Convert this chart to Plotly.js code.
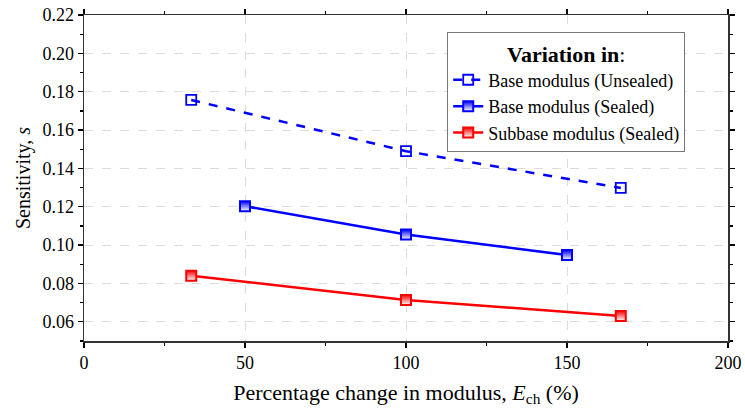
<!DOCTYPE html>
<html>
<head>
<meta charset="utf-8">
<script src="https://cdn.plot.ly/plotly-3.0.1.min.js"></script>
<style>html,body{margin:0;padding:0;background:#fff;}#chart{width:745px;height:414px;}</style>
</head>
<body>
<div id="chart"></div>
<script>
const seriesNames = ["Base modulus (Unsealed)", "Base modulus (Sealed)", "Subbase modulus (Sealed)"];
const xUnsealedBase = [33.3, 100, 166.7];
const yUnsealedBase = [0.1757, 0.1490, 0.1298];
const xSealedBase = [50, 100, 150];
const ySealedBase = [0.1203, 0.1055, 0.0948];
const xSealedSubbase = [33.3, 100, 166.7];
const ySealedSubbase = [0.0840, 0.0714, 0.0630];
const xTickVals = [0, 50, 100, 150, 200];
const xTickText = ["0", "50", "100", "150", "200"];
const yTickVals = [0.06, 0.08, 0.10, 0.12, 0.14, 0.16, 0.18, 0.20, 0.22];
const yTickText = ["0.06", "0.08", "0.10", "0.12", "0.14", "0.16", "0.18", "0.20", "0.22"];

const FONT = "Liberation Serif";
const blue = "#0000ff", red = "#ff0000";

const traces = [
  {x: xUnsealedBase, y: yUnsealedBase, name: seriesNames[0], mode: "lines+markers",
   line: {color: blue, width: 2.5, dash: "dash"},
   marker: {symbol: "square-open", size: 10, color: blue, line: {width: 1.8, color: blue}}},
  {x: xSealedBase, y: ySealedBase, name: seriesNames[1], mode: "lines+markers",
   line: {color: blue, width: 2.5},
   marker: {symbol: "square", size: 10, color: blue, gradient: {type: "vertical", color: "#ffffff"}, line: {width: 2, color: blue}}},
  {x: xSealedSubbase, y: ySealedSubbase, name: seriesNames[2], mode: "lines+markers",
   line: {color: red, width: 2.5},
   marker: {symbol: "square", size: 10, color: red, gradient: {type: "vertical", color: "#ffffff"}, line: {width: 2, color: red}}}
];

const minorY = [0.05, 0.07, 0.09, 0.11, 0.13, 0.15, 0.17, 0.19, 0.21];
const minorX = [25, 75, 125, 175];

const layout = {
  width: 745, height: 414,
  margin: {l: 84, r: 17, t: 15, b: 73},
  paper_bgcolor: "#fff", plot_bgcolor: "#fff",
  font: {family: FONT, size: 18, color: "#000"},
  showlegend: true,
  xaxis: {
    range: [0, 200], tickvals: xTickVals, ticktext: xTickText, ticks: "outside", ticklen: 5, tickwidth: 1.3, tickcolor: "#000",
    showline: true, mirror: "ticks", linecolor: "#333", linewidth: 1.5, zeroline: false,
    showgrid: true, gridcolor: "#dcdcdc", griddash: "dash", gridwidth: 1,
    minor: {tickvals: minorX, ticks: "outside", ticklen: 3, tickcolor: "#000", showgrid: false},
    title: {text: "Percentage change in modulus, <i>E</i><sub>ch</sub> (%)", font: {size: 22}, standoff: 12}
  },
  yaxis: {
    range: [0.05, 0.22], tickvals: yTickVals, ticktext: yTickText, ticks: "outside", ticklen: 5, tickwidth: 1.3, tickcolor: "#000",
    showline: true, mirror: "ticks", linecolor: "#333", linewidth: 1.5, zeroline: false,
    showgrid: true, gridcolor: "#dcdcdc", griddash: "dash", gridwidth: 1,
    minor: {tickvals: minorY, ticks: "outside", ticklen: 3, tickcolor: "#000", showgrid: false},
    title: {text: "Sensitivity, <i>s</i>", font: {size: 20}, standoff: 6}
  },
  legend: {
    x: 0.564, y: 0.948, xanchor: "left", yanchor: "top",
    bgcolor: "#fff", bordercolor: "#777", borderwidth: 1, tracegroupgap: 0,
    title: {text: "<b>Variation in</b>:", side: "top center"}
  }
};

Plotly.newPlot("chart", traces, layout, {displayModeBar: false, staticPlot: true});
</script>
</body>
</html>
